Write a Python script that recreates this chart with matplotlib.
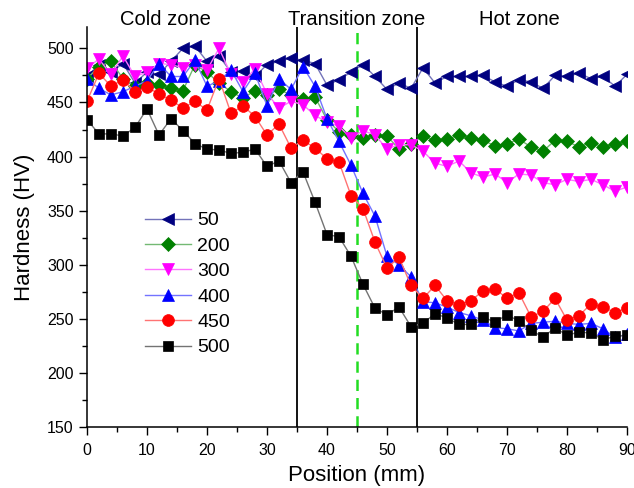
import numpy as np
import matplotlib
matplotlib.use("Agg")
import matplotlib.pyplot as plt
from matplotlib.colors import to_rgb

plt.rcParams['font.family'] = ['Liberation Sans', 'DejaVu Sans']

position = list(range(0, 92, 2))

hv_50 = [474, 485, 478, 486, 468, 478, 476, 488, 500, 502, 488, 493, 478, 479, 474, 485,
         488, 491, 489, 486, 466, 471, 478, 485, 474, 462, 468, 463, 482, 468, 474, 474,
         474, 475, 469, 465, 471, 469, 463, 475, 474, 477, 472, 474, 465, 476]
hv_200 = [472, 483, 488, 472, 465, 468, 466, 463, 461, 485, 478, 468, 460, 454, 461, 457,
          462, 457, 453, 455, 434, 423, 420, 417, 420, 419, 407, 412, 419, 415, 416, 420,
          417, 415, 410, 412, 416, 409, 405, 415, 414, 409, 413, 409, 412, 414]
hv_300 = [482, 490, 476, 493, 474, 478, 486, 485, 482, 485, 480, 500, 476, 469, 481, 458,
          445, 451, 448, 438, 432, 428, 417, 424, 420, 407, 411, 411, 405, 394, 391, 396,
          385, 381, 384, 376, 384, 383, 376, 374, 379, 377, 379, 374, 368, 372]
hv_400 = [472, 463, 457, 460, 465, 470, 486, 474, 474, 489, 465, 470, 480, 460, 477, 447,
          472, 462, 483, 465, 435, 414, 392, 366, 345, 308, 300, 289, 266, 265, 261, 256,
          253, 249, 242, 241, 239, 246, 247, 248, 246, 245, 246, 241, 233, 236]
hv_450 = [451, 477, 465, 471, 460, 464, 458, 452, 445, 451, 443, 472, 440, 447, 437, 420,
          430, 408, 415, 408, 398, 395, 364, 352, 321, 297, 307, 281, 269, 281, 267, 263,
          267, 276, 278, 269, 274, 252, 257, 269, 249, 253, 264, 261, 256, 260]
hv_500 = [434, 421, 421, 419, 427, 444, 420, 435, 424, 412, 407, 406, 403, 404, 407, 391,
          396, 376, 386, 358, 328, 326, 308, 282, 260, 254, 261, 243, 246, 255, 251, 245,
          245, 252, 247, 254, 248, 240, 233, 242, 235, 238, 237, 231, 234, 235]

labels = ['50', '200', '300', '400', '450', '500']
series = [hv_50, hv_200, hv_300, hv_400, hv_450, hv_500]
colors = ['#000080', '#008000', '#FF00FF', '#0000FF', '#FF0000', '#000000']
markers = ['<', 'D', 'v', '^', 'o', 's']
msizes = [9, 7, 9, 9, 8.5, 7.5]

zone_names = ['Cold zone', 'Transition zone', 'Hot zone']
zone_x = [13, 45, 72]
boundaries = [35, 55]
midline = 45

def lighten(c, f=0.45):
    r, g, b = to_rgb(c)
    return (r + (1 - r) * f, g + (1 - g) * f, b + (1 - b) * f)

fig = plt.figure(figsize=(6.34, 4.88), dpi=100)
ax = fig.add_axes([0.1372, 0.1244, 0.989 - 0.1372, 0.9453 - 0.1244])

for lab, ys, c, m, ms in zip(labels, series, colors, markers, msizes):
    ax.plot(position, ys, color=lighten(c), lw=1.0, marker=m, ms=ms,
            mfc=c, mec=c, mew=0.5, label=lab)

for b in boundaries:
    ax.axvline(b, color='black', lw=1.3, zorder=1)
ax.axvline(midline, color='#22DD22', lw=1.8, ls=(0, (4.5, 2.8)), zorder=1)

ax.set_xlim(0, 90)
ax.set_ylim(150, 520)
ax.set_xticks(np.arange(0, 91, 10))
ax.set_xticks(np.arange(0, 91, 5), minor=True)
ax.set_yticks(np.arange(150, 501, 50))
ax.set_yticks(np.arange(150, 501, 25), minor=True)
ax.tick_params(which='major', direction='out', length=6, width=1, labelsize=11.5)
ax.tick_params(axis='x', which='major', pad=5)
ax.tick_params(which='minor', direction='out', length=3.5, width=1)
ax.spines['top'].set_visible(False)
ax.spines['right'].set_visible(False)
for s in ['left', 'bottom']:
    ax.spines[s].set_linewidth(1.1)

ax.set_xlabel('Position (mm)', fontsize=16, labelpad=5)
ax.set_ylabel('Hardness (HV)', fontsize=16, labelpad=9)

for name, zx in zip(zone_names, zone_x):
    ax.text(zx, 521.5, name, ha='center', va='baseline', fontsize=14.5)

leg = ax.legend(loc='upper left', bbox_to_anchor=(0.107, 0.538), frameon=False,
                fontsize=14, handlelength=2.4, handletextpad=0.3,
                labelspacing=0.4, borderpad=0, borderaxespad=0)

fig.savefig('out.png', dpi=100)
